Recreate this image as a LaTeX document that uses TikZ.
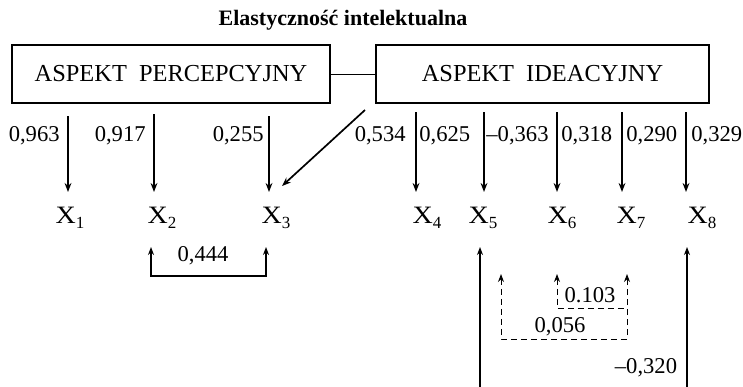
\documentclass[tikz,border=0pt]{standalone}
\usepackage{fontspec}
\setmainfont{Liberation Serif}
\usetikzlibrary{arrows.meta}
\newcommand\xsub[2]{\scalebox{1.12}[1]{X}\raisebox{-0.5ex}{\fontsize{8.5}{9}\selectfont #2}}
\begin{document}
\begin{tikzpicture}[x=0.5pt,y=-0.5pt,
  aspect/.style={draw,line width=0.6pt,inner sep=0pt,font=\fontsize{12.2}{14}\selectfont},
  load/.style={draw,line width=0.85pt,-{Stealth[length=4.5pt,width=3.4pt]}},
  corr/.style={draw,line width=0.7pt,{Stealth[length=4pt,width=3pt]}-{Stealth[length=4pt,width=3pt]}},
  corrl/.style={draw,line width=0.7pt,{Stealth[length=4pt,width=3pt]}-},
  dsh/.style={dash pattern=on 3pt off 2pt,line width=0.5pt},
  val/.style={inner sep=0pt,font=\fontsize{11.3}{13}\selectfont},
  var/.style={inner sep=0pt,anchor=base,font=\fontsize{12.5}{14}\selectfont}]
\useasboundingbox (0,0) rectangle (743,386);
% title
\node[inner sep=0pt,font=\fontsize{11}{13}\selectfont\bfseries] (title) at (343,20) {Elastyczność intelektualna};
% boxes
\node[aspect,minimum width=159pt,minimum height=29pt] (P) at (171,74) {ASPEKT\hspace{0.5em}PERCEPCYJNY};
\node[aspect,minimum width=166.5pt,minimum height=29pt] (I) at (542.5,74) {ASPEKT\hspace{0.5em}IDEACYJNY};
\draw[line width=0.5pt] (P.east) -- (I.west);
% variables
\node[var] (X1) at (70,223) {\xsub X1};
\node[var] (X2) at (162,223) {\xsub X2};
\node[var] (X3) at (276,223) {\xsub X3};
\node[var] (X4) at (427,223) {\xsub X4};
\node[var] (X5) at (483,223) {\xsub X5};
\node[var] (X6) at (562,223) {\xsub X6};
\node[var] (X7) at (631,223) {\xsub X7};
\node[var] (X8) at (702,223) {\xsub X8};
% arrow coordinates
\coordinate (s1) at (68,116);  \coordinate (e1) at (68,192);
\coordinate (s2) at (154,114); \coordinate (e2) at (154,192);
\coordinate (s3) at (269,116); \coordinate (e3) at (269,192);
\coordinate (sd) at (365,110); \coordinate (ed) at (282,186);
\coordinate (s4) at (416,112); \coordinate (e4) at (416,192);
\coordinate (s5) at (484,112); \coordinate (e5) at (484,192);
\coordinate (s6) at (557,112); \coordinate (e6) at (557,192);
\coordinate (s7) at (622,112); \coordinate (e7) at (622,192);
\coordinate (s8) at (686,112); \coordinate (e8) at (686,192);
\draw[load] (s1) -- (e1);
\draw[load] (s2) -- (e2);
\draw[load] (s3) -- (e3);
\draw[load] (sd) -- (ed);
\draw[load] (s4) -- (e4);
\draw[load] (s5) -- (e5);
\draw[load] (s6) -- (e6);
\draw[load] (s7) -- (e7);
\draw[load] (s8) -- (e8);
% loadings
\node[val,anchor=base east] (l1) at (60,141) {0,963};
\node[val,anchor=base east] (l2) at (146,141) {0,917};
\node[val,anchor=base east] (l3) at (264,141) {0,255};
\node[val,anchor=base east] (ld) at (406,141) {0,534};
\node[val,anchor=base west] (l4) at (419,141) {0,625};
\node[val,anchor=base west] (l5) at (486,141) {–0,363};
\node[val,anchor=base west] (l6) at (561,141) {0,318};
\node[val,anchor=base west] (l7) at (626,141) {0,290};
\node[val,anchor=base west] (l8) at (691,141) {0,329};
% correlation X2-X3
\coordinate (c2t) at (151,247); \coordinate (c2b) at (151,276);
\coordinate (c3t) at (266,247); \coordinate (c3b) at (266,276);
\draw[corr] (c2t) -- (c2b) -- (c3b) -- (c3t);
\node[val] (r23) at (203,256) {0,444};
% correlation X5-X8 (continues below the frame)
\begin{scope}
\clip (0,0) rectangle (743,386);
\coordinate (c5t) at (480,247); \coordinate (c5b) at (480,400);
\coordinate (c8t) at (687,247); \coordinate (c8b) at (687,400);
\draw[corr,line width=0.85pt] (c5t) -- (c5b) -- (c8b) -- (c8t);
\end{scope}
\node[val] (r58) at (646,368) {–0,320};
% dashed correlations
\coordinate (d5t) at (501,274); \coordinate (d5b) at (501,339);
\coordinate (d7t) at (627,274); \coordinate (d7b) at (627,339);
\draw[corr,dsh] (d5t) -- (d5b) -- (d7b) -- (d7t);
\node[val] (r57) at (560,327) {0,056};
\coordinate (d6t) at (557,274); \coordinate (d6b) at (557,308);
\coordinate (d67) at (627,308);
\draw[corrl,dsh] (d6t) -- (d6b) -- (d67);
\node[val] (r67) at (590,295) {0.103};
\end{tikzpicture}
\end{document}
